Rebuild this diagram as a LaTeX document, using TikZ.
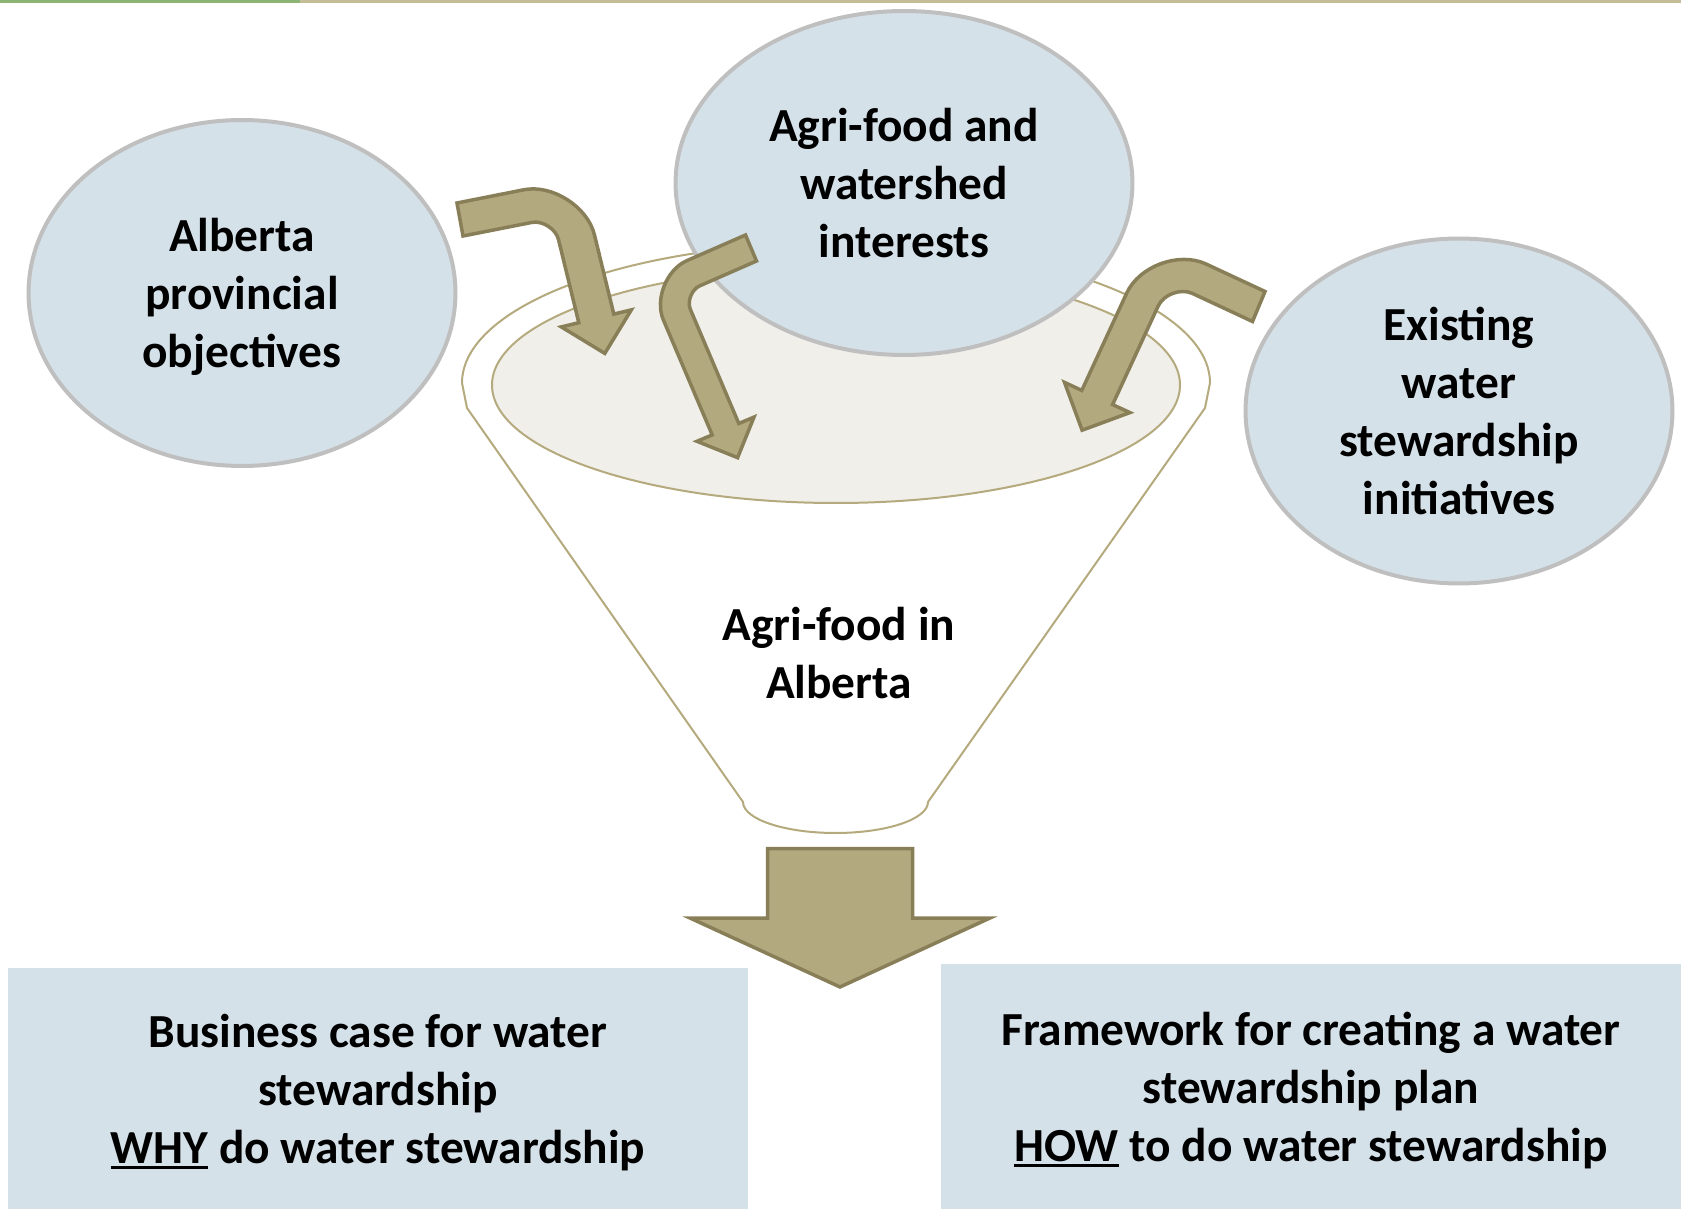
\documentclass[tikz,border=0pt]{standalone}
\usepackage{fontspec}
\setmainfont{Carlito}
\usetikzlibrary{shapes.geometric,calc}
\definecolor{bubblefill}{RGB}{213,225,233}
\definecolor{bubbleedge}{RGB}{191,191,191}
\definecolor{arrowfill}{RGB}{178,169,126}
\definecolor{arrowedge}{RGB}{136,127,88}
\definecolor{funneledge}{RGB}{180,170,125}
\definecolor{surfacefill}{RGB}{240,239,234}
\definecolor{topgreen}{RGB}{141,180,117}
\definecolor{topkhaki}{RGB}{196,189,151}
\newcommand{\labelfont}{\fontsize{27}{33}\selectfont\bfseries}
\newcommand{\keyword}[1]{\setbox0=\hbox{#1}\rlap{\rule[-0.12em]{\wd0}{0.06em}}\box0\relax}
\tikzset{bubble/.style={ellipse, draw=bubbleedge, line width=0.08cm,
    fill=bubblefill, inner sep=0pt, align=center, font=\labelfont,
    text depth=0pt},
  panel/.style={rectangle, fill=bubblefill, inner sep=0pt,
    align=center, font=\labelfont, text depth=0pt},
  bentarrow/.style={draw=arrowedge, fill=arrowfill, line width=0.07cm},
  funnelline/.style={draw=funneledge, line width=0.04cm}}

\begin{document}
\begin{tikzpicture}[x=0.02cm, y=-0.02cm]
  \useasboundingbox (0,0) rectangle (1681,1209);
  \fill[topgreen] (0,0) rectangle (300,3);
  \fill[topkhaki] (300,0) rectangle (1681,3);

  % funnel
  \draw[funnelline, fill=white] (743,802) -- (467,408) -- (462,383)
    arc[start angle=180, end angle=360, x radius=374, y radius=140]
    -- (1205,408) -- (928,802)
    arc[start angle=0, end angle=180, x radius=92.5, y radius=31] -- cycle;
  \draw[funnelline, fill=surfacefill] (836,385) ellipse [x radius=344, y radius=118];
  \node[font=\labelfont, align=center] (agrifood) at (839,653) {Agri-food in\\Alberta};

  % outputs
  \node[panel, minimum width=14.8cm, minimum height=4.82cm] (why) at (378,1088.5)
    {Business case for water\\stewardship\\\keyword{WHY} do water stewardship};
  \node[panel, minimum width=14.8cm, minimum height=4.9cm] (how) at (1311,1086.5)
    {Framework for creating a water\\stewardship plan\\\keyword{HOW} to do water stewardship};
  \draw[bentarrow, line width=0.07cm] (767.5,848.5) -- (912.5,848.5) -- (912.5,918)
    -- (990,918) -- (840,987) -- (690,918) -- (767.5,918) -- cycle;

  % inputs
  \node[bubble, minimum width=8.54cm, minimum height=6.92cm] (objectives) at (242,293)
    {Alberta\\provincial\\objectives};
  \node[bubble, minimum width=9.14cm, minimum height=6.88cm] (interests) at (904,183)
    {Agri-food and\\watershed\\interests};
  \node[bubble, minimum width=8.54cm, minimum height=6.9cm] (initiatives) at (1459,411)
    {Existing\\water\\stewardship\\initiatives};

  % bent arrows: tail a/b, corners o/i, head s-r-t-q-p
  \path (457,203) coordinate (a1) (580.7,178.5) coordinate (o1)
    (613.8,314.1) coordinate (p1) (631.3,309.9) coordinate (q1)
    (604.8,353.4) coordinate (t1) (561.3,326.9) coordinate (r1)
    (578.8,322.7) coordinate (s1) (553.3,218.2) coordinate (i1)
    (463,236) coordinate (b1);
  \path (745.5,235) coordinate (a2) (645.8,278.6) coordinate (o2)
    (712.2,434.9) coordinate (p2) (697,441.3) coordinate (q2)
    (737.6,457.7) coordinate (t2) (754,417.1) coordinate (r2)
    (738.8,423.5) coordinate (s2) (683.4,293) coordinate (i2)
    (756.5,261) coordinate (b2);
  \path (1265,291.5) coordinate (a3) (1151.8,238.7) coordinate (o3)
    (1081.8,390.4) coordinate (p3) (1064.5,382.4) coordinate (q3)
    (1082.1,430.2) coordinate (t3) (1129.9,412.6) coordinate (r3)
    (1112.6,404.6) coordinate (s3) (1169,282.5) coordinate (i3)
    (1252.5,321.5) coordinate (b3);
  \foreach \n/\ro/\rh/\ri/\rj in {1/1.16cm/0.58cm/0.44cm/0.22cm,
      2/0.9cm/0.45cm/0.36cm/0.18cm, 3/1.2cm/0.6cm/0.52cm/0.26cm}
    \draw[bentarrow] (a\n) -- ($(o\n)!\ro!(a\n)$)
      .. controls ($(o\n)!\rh!(a\n)$) and ($(o\n)!\rh!(p\n)$) .. ($(o\n)!\ro!(p\n)$)
      -- (p\n) -- (q\n) -- (t\n) -- (r\n) -- (s\n) -- ($(i\n)!\ri!(s\n)$)
      .. controls ($(i\n)!\rj!(s\n)$) and ($(i\n)!\rj!(b\n)$) .. ($(i\n)!\ri!(b\n)$)
      -- (b\n) -- cycle;
\end{tikzpicture}
\end{document}
